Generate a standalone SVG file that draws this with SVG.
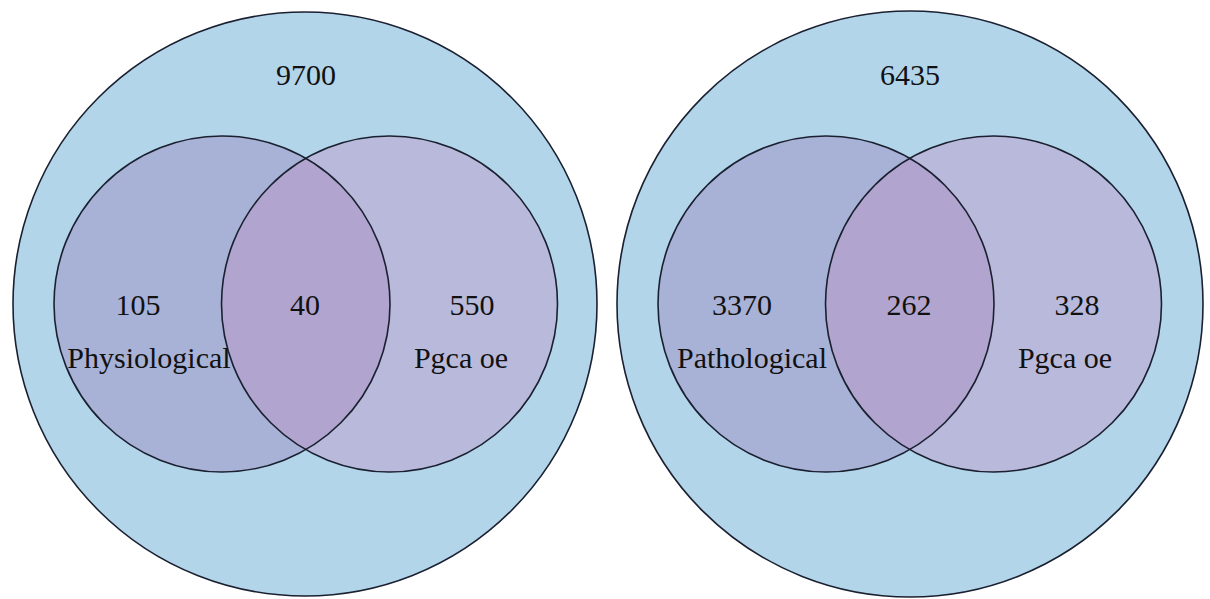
<svg xmlns="http://www.w3.org/2000/svg" width="1210" height="599" viewBox="0 0 1210 599">
  <style>
    .universe { fill: #b3d5ea; stroke: #1a2030; stroke-width: 1.6; }
    .setA { fill: #a8b1d6; }
    .setB { fill: #b9badb; }
    .both { fill: #b1a5d0; }
    .ring { fill: none; stroke: #1a2030; stroke-width: 1.6; }
    text { font-family: "Liberation Serif", "Times New Roman", serif; font-size: 30px; fill: #111; text-anchor: middle; }
  </style>
  <defs>
    <clipPath id="clipA1"><circle cx="222" cy="304" r="168"/></clipPath>
    <clipPath id="clipA2"><circle cx="826" cy="304" r="168"/></clipPath>
  </defs>

  <!-- Left panel: physiological vs Pgca oe -->
  <g id="universe-left">
    <circle class="universe" cx="305" cy="304" r="292"/>
    <text x="306" y="85">9700</text>
  </g>
  <g id="physiological">
    <circle class="setA" cx="222" cy="304" r="168"/>
  </g>
  <g id="pgca-oe-left">
    <circle class="setB" cx="389.5" cy="304" r="168"/>
  </g>
  <g id="overlap-left">
    <circle class="both" cx="389.5" cy="304" r="168" clip-path="url(#clipA1)"/>
  </g>
  <g id="outlines-left">
    <circle class="ring" cx="222" cy="304" r="168"/>
    <circle class="ring" cx="389.5" cy="304" r="168"/>
  </g>
  <g id="labels-left">
    <text x="138" y="315">105</text>
    <text x="149" y="368">Physiological</text>
    <text x="305" y="315">40</text>
    <text x="472" y="315">550</text>
    <text x="461" y="368">Pgca oe</text>
  </g>

  <!-- Right panel: pathological vs Pgca oe -->
  <g id="universe-right">
    <circle class="universe" cx="910" cy="304" r="293"/>
    <text x="910" y="85">6435</text>
  </g>
  <g id="pathological">
    <circle class="setA" cx="826" cy="304" r="168"/>
  </g>
  <g id="pgca-oe-right">
    <circle class="setB" cx="993.5" cy="304" r="168"/>
  </g>
  <g id="overlap-right">
    <circle class="both" cx="993.5" cy="304" r="168" clip-path="url(#clipA2)"/>
  </g>
  <g id="outlines-right">
    <circle class="ring" cx="826" cy="304" r="168"/>
    <circle class="ring" cx="993.5" cy="304" r="168"/>
  </g>
  <g id="labels-right">
    <text x="742" y="315">3370</text>
    <text x="752" y="368">Pathological</text>
    <text x="909" y="315">262</text>
    <text x="1077" y="315">328</text>
    <text x="1065" y="368">Pgca oe</text>
  </g>
</svg>
